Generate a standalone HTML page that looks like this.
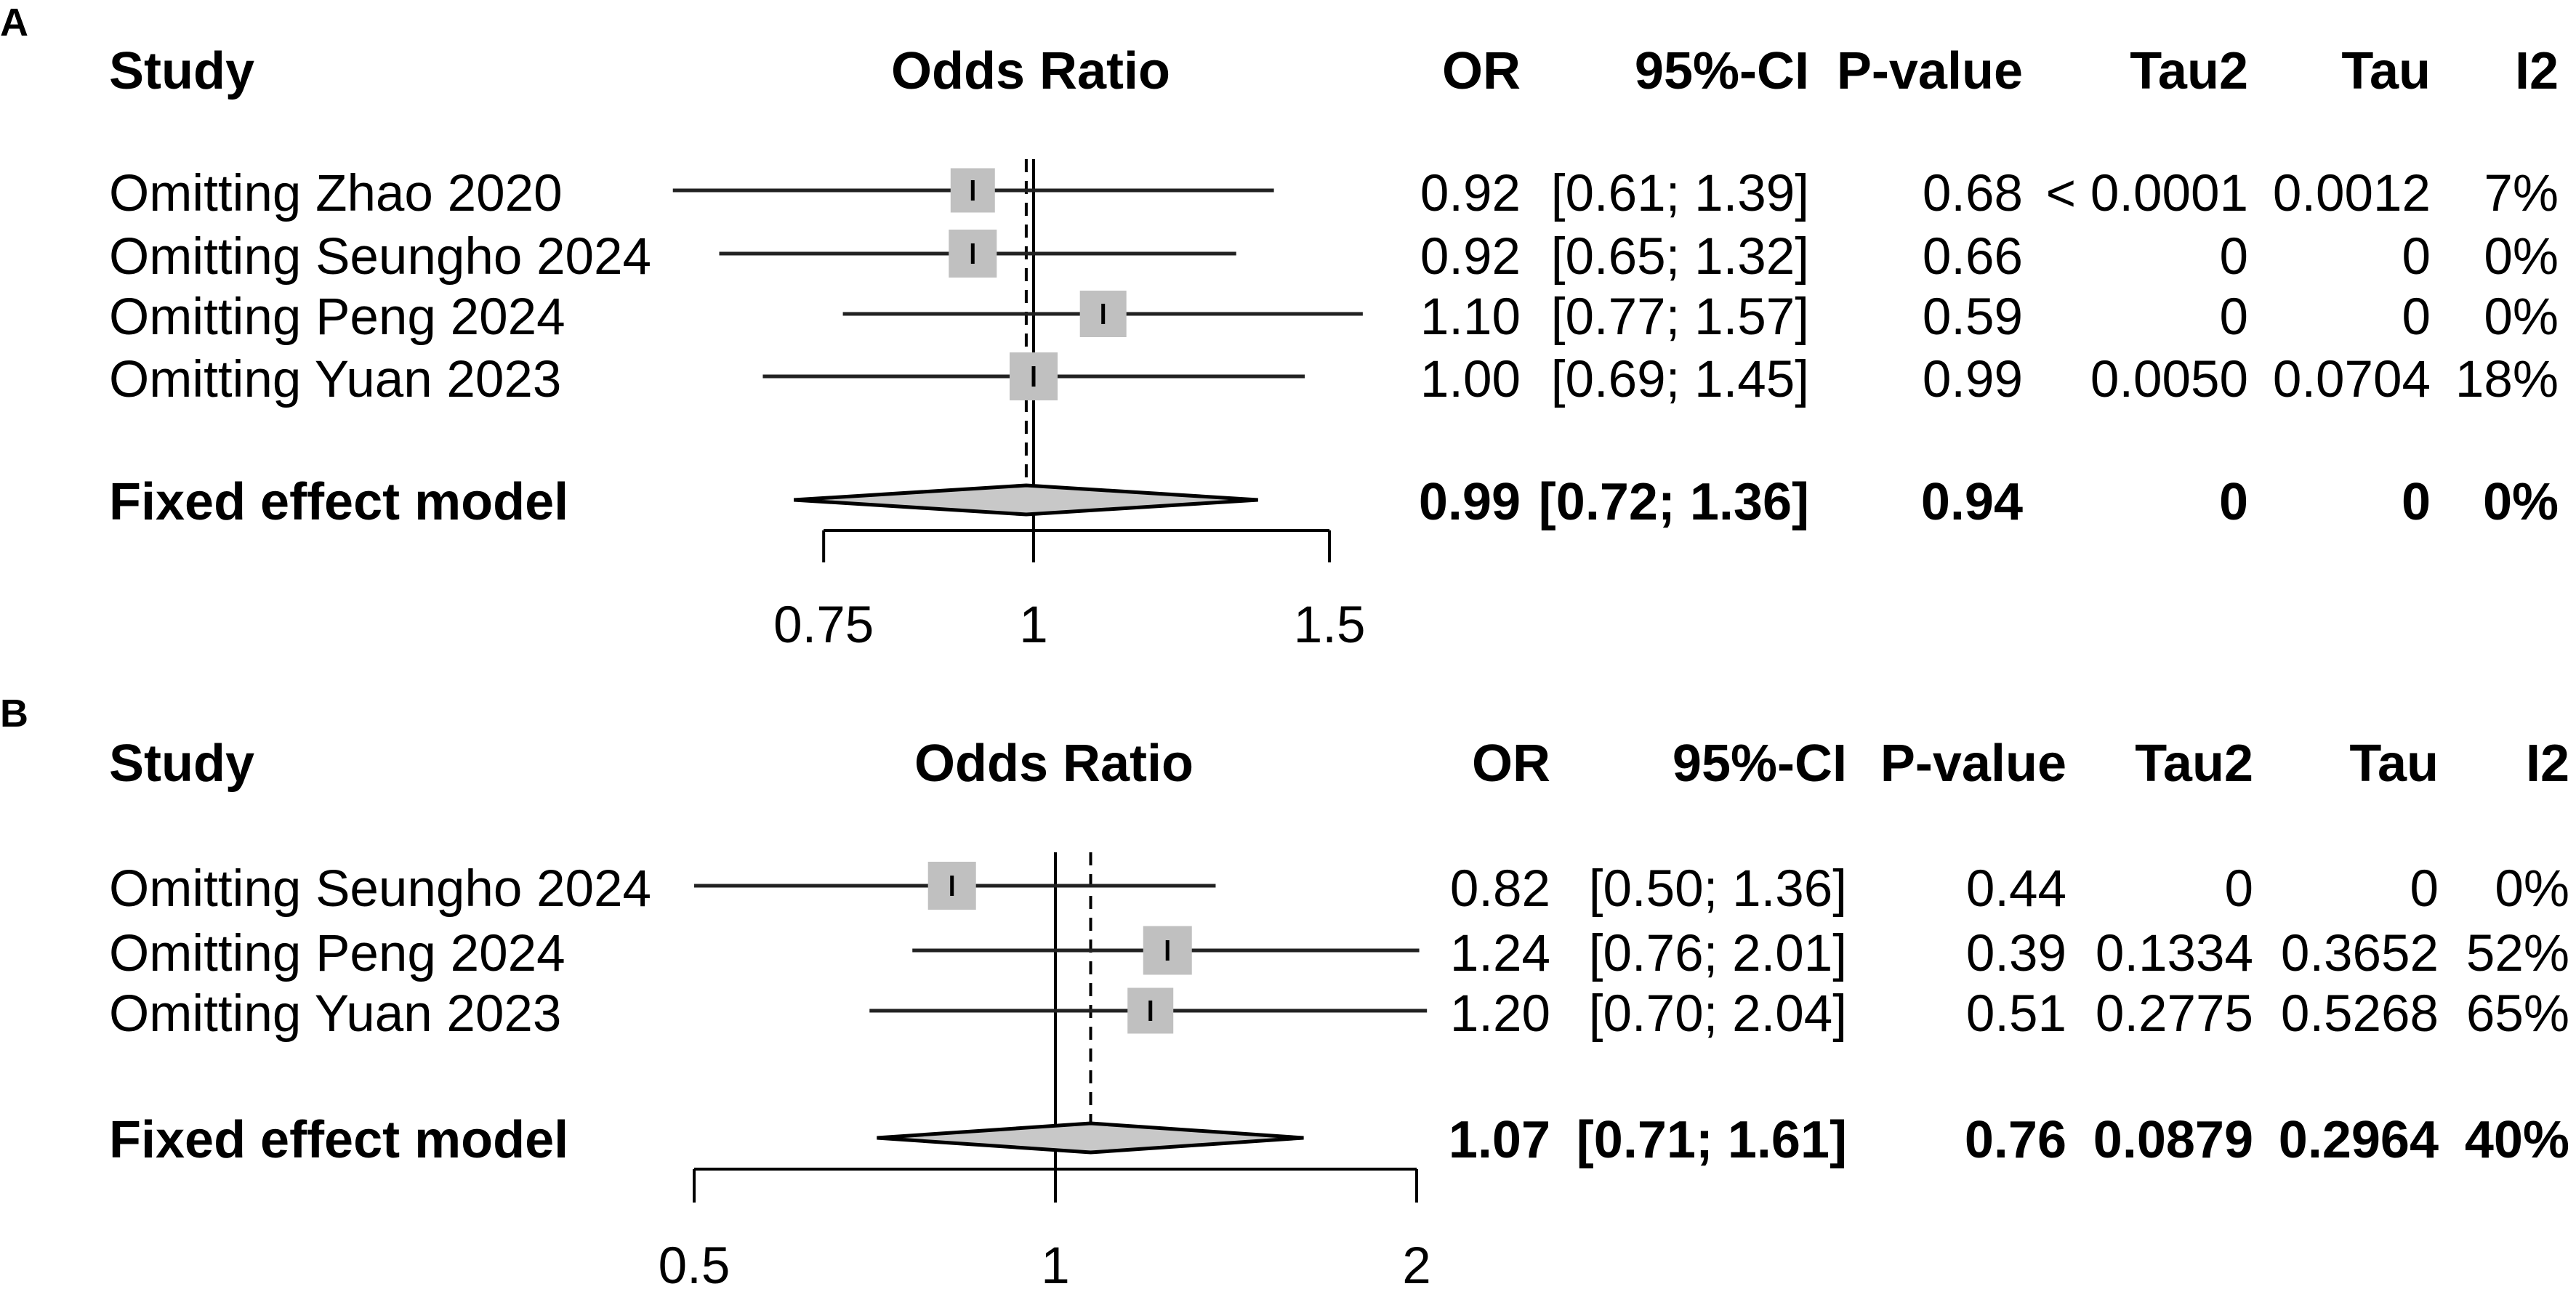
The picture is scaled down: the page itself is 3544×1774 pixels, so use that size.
<!DOCTYPE html>
<html><head><meta charset="utf-8"><style>
html,body{margin:0;padding:0;background:#fff;}
svg{display:block;}
text{font-family:"Liberation Sans",Arial,sans-serif;fill:#000;}
.b{font-weight:bold;}
</style></head><body>
<svg id="chart" width="3544" height="1774" viewBox="0 0 3544 1774" xmlns="http://www.w3.org/2000/svg"></svg>
<script>
// Panel A data
const studiesA = ["Omitting Zhao 2020","Omitting Seungho 2024","Omitting Peng 2024","Omitting Yuan 2023"];
const orA = [0.92,0.92,1.10,1.00];
const lowerA = [0.61,0.65,0.77,0.69];
const upperA = [1.39,1.32,1.57,1.45];
const weightA = [61,66,64,66];
const pA = ["0.68","0.66","0.59","0.99"];
const tau2A = ["< 0.0001","0","0","0.0050"];
const tauA = ["0.0012","0","0","0.0704"];
const i2A = ["7%","0%","0%","18%"];
const pooledA = [0.99,0.72,1.36];
const pooledTextA = ["0.94","0","0","0%"];
const ticksA = [0.75,1,1.5];
const tickLabelsA = ["0.75","1","1.5"];
// Panel B data
const studiesB = ["Omitting Seungho 2024","Omitting Peng 2024","Omitting Yuan 2023"];
const orB = [0.82,1.24,1.20];
const lowerB = [0.50,0.76,0.70];
const upperB = [1.36,2.01,2.04];
const weightB = [66,67,63];
const pB = ["0.44","0.39","0.51"];
const tau2B = ["0","0.1334","0.2775"];
const tauB = ["0","0.3652","0.5268"];
const i2B = ["0%","52%","65%"];
const pooledB = [1.07,0.71,1.61];
const pooledTextB = ["0.76","0.0879","0.2964","40%"];
const ticksB = [0.5,1,2];
const tickLabelsB = ["0.5","1","2"];

const svg = document.getElementById('chart');
const NS = "http://www.w3.org/2000/svg";
function mk(tag, attrs, parent){
  const e = document.createElementNS(NS, tag);
  for (const k in attrs) e.setAttribute(k, attrs[k]);
  (parent||svg).appendChild(e);
  return e;
}
function txt(s, x, y, anchor, bold, size, name, parent){
  const t = mk('text', {x:x, y:y, 'text-anchor':anchor, 'font-size':size}, parent);
  if (bold) t.setAttribute('class','b');
  t.textContent = s;
  
  
  return t;
}
const fmt = v => v.toFixed(2);

function panel(cfg){
  const g = mk('g', {});
  
  
  const xs = v => cfg.x1 + Math.log(v) * cfg.k;
  const FS = 71;
  const HS = 72;
  txt(cfg.letter, 0, cfg.letterY, 'start', true, 54, 'panel-label', g);
  const hy = cfg.headY;
  txt("Study", 150, hy, 'start', true, HS, 'study-header', g);
  txt("Odds Ratio", cfg.orCenter, hy, 'middle', true, HS, 'odds-ratio-header', g);
  txt("OR", cfg.cols[0], hy, 'end', true, HS, 'or-header', g);
  txt("95%-CI", cfg.cols[1], hy, 'end', true, HS, 'ci-header', g);
  txt("P-value", cfg.cols[2], hy, 'end', true, HS, 'p-value-header', g);
  txt("Tau2", cfg.cols[3], hy, 'end', true, HS, 'tau2-header', g);
  txt("Tau", cfg.cols[4], hy, 'end', true, HS, 'tau-header', g);
  txt("I2", cfg.cols[5], hy, 'end', true, HS, 'i2-header', g);
  const ref = mk('line', {x1:xs(1), x2:xs(1), y1:cfg.vTop, y2:cfg.tickBot, stroke:'#000', 'stroke-width':4}, g);
  
  
  const dl = mk('line', {x1:xs(cfg.pooled[0]), x2:xs(cfg.pooled[0]), y1:cfg.vTop, y2:cfg.diamY - 20, stroke:'#000', 'stroke-width':4, 'stroke-dasharray':'18,12'}, g);
  
  
  cfg.studies.forEach((s, i) => {
    const base = cfg.rowBase[i];
    const ly = base - 28;
    txt(s, 150, base, 'start', false, FS, 'study-label', g);
    const ci = mk('line', {x1:xs(cfg.lower[i]), x2:xs(cfg.upper[i]), y1:ly, y2:ly, stroke:'#222', 'stroke-width':5}, g);
    
    
    const w = cfg.weight[i];
    const sq = mk('rect', {x:xs(cfg.or[i]) - w/2, y:ly - w/2, width:w, height:w, fill:'#c0c0c0'}, g);
    
    
    const c = mk('line', {x1:xs(cfg.or[i]), x2:xs(cfg.or[i]), y1:ly - 14, y2:ly + 14, stroke:'#000', 'stroke-width':5}, g);
    
    
    txt(fmt(cfg.or[i]), cfg.cols[0], base, 'end', false, FS, 'or-value', g);
    txt("[" + fmt(cfg.lower[i]) + "; " + fmt(cfg.upper[i]) + "]", cfg.cols[1], base, 'end', false, FS, 'ci-value', g);
    txt(cfg.p[i], cfg.cols[2], base, 'end', false, FS, 'p-value', g);
    txt(cfg.tau2[i], cfg.cols[3], base, 'end', false, FS, 'tau2-value', g);
    txt(cfg.tau[i], cfg.cols[4], base, 'end', false, FS, 'tau-value', g);
    txt(cfg.i2[i], cfg.cols[5], base, 'end', false, FS, 'i2-value', g);
  });
  const fb = cfg.fixedBase;
  txt("Fixed effect model", 150, fb, 'start', true, HS, 'fixed-effect-label', g);
  const dy = cfg.diamY;
  const pts = [[xs(cfg.pooled[1]), dy],[xs(cfg.pooled[0]), dy - 20],[xs(cfg.pooled[2]), dy],[xs(cfg.pooled[0]), dy + 20]].map(p => p.join(',')).join(' ');
  const dm = mk('polygon', {points:pts, fill:'#c8c8c8', stroke:'#000', 'stroke-width':5}, g);
  
  
  txt(fmt(cfg.pooled[0]), cfg.cols[0], fb, 'end', true, HS, 'pooled-or', g);
  txt("[" + fmt(cfg.pooled[1]) + "; " + fmt(cfg.pooled[2]) + "]", cfg.cols[1], fb, 'end', true, HS, 'pooled-ci', g);
  txt(cfg.pooledText[0], cfg.cols[2], fb, 'end', true, HS, 'pooled-p-value', g);
  txt(cfg.pooledText[1], cfg.cols[3], fb, 'end', true, HS, 'pooled-tau2', g);
  txt(cfg.pooledText[2], cfg.cols[4], fb, 'end', true, HS, 'pooled-tau', g);
  txt(cfg.pooledText[3], cfg.cols[5], fb, 'end', true, HS, 'pooled-i2', g);
  const ax = mk('line', {x1:xs(cfg.ticks[0]), x2:xs(cfg.ticks[cfg.ticks.length-1]), y1:cfg.axisY, y2:cfg.axisY, stroke:'#000', 'stroke-width':4}, g);
  
  
  cfg.ticks.forEach((t, i) => {
    const tk = mk('line', {x1:xs(t), x2:xs(t), y1:cfg.axisY, y2:cfg.tickBot, stroke:'#000', 'stroke-width':4}, g);
    
    
    txt(cfg.tickLabels[i], xs(t), cfg.tickLabelY, 'middle', false, FS, 'x-tick-label', g);
  });
}

panel({name:'panel-a', letter:'A', letterY:49, headY:122, orCenter:1418,
  x1:1422, k:1004, cols:[2092,2489,2783,3093,3344,3520],
  studies:studiesA, or:orA, lower:lowerA, upper:upperA, weight:weightA,
  p:pA, tau2:tau2A, tau:tauA, i2:i2A, pooled:pooledA, pooledText:pooledTextA,
  rowBase:[290,377,460,546], fixedBase:715, diamY:688, vTop:219,
  axisY:730, tickBot:774, tickLabelY:884, ticks:ticksA, tickLabels:tickLabelsA});

panel({name:'panel-b', letter:'B', letterY:1000, headY:1075, orCenter:1450,
  x1:1452, k:717, cols:[2133,2541,2843,3100,3355,3535],
  studies:studiesB, or:orB, lower:lowerB, upper:upperB, weight:weightB,
  p:pB, tau2:tau2B, tau:tauB, i2:i2B, pooled:pooledB, pooledText:pooledTextB,
  rowBase:[1247,1336,1419], fixedBase:1593, diamY:1566, vTop:1173,
  axisY:1609, tickBot:1655, tickLabelY:1766, ticks:ticksB, tickLabels:tickLabelsB});
</script>
</body></html>
